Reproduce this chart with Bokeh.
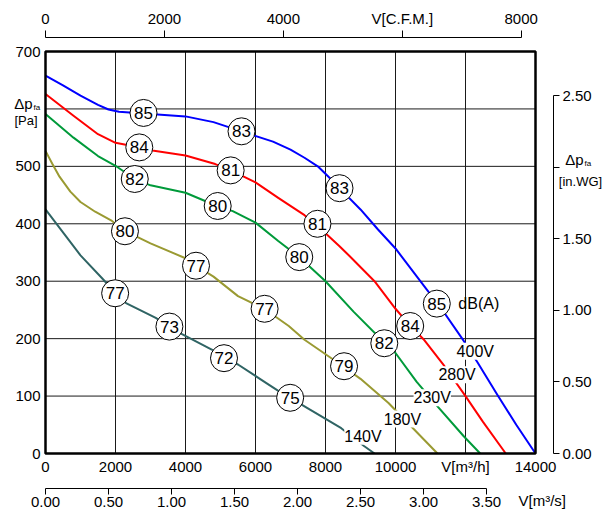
from bokeh.plotting import figure
from bokeh.models import LinearAxis, Range1d, FixedTicker, Label, NumeralTickFormatter
from bokeh.embed import file_html
from bokeh.resources import INLINE
from bokeh.core.properties import value

FONT = "Liberation Sans"

# ---- data (airflow m3/h, static pressure Pa) ----
x_400 = [0, 500, 1000, 1500, 1800, 2100, 2800, 4000, 4800, 5600, 6500, 7000, 7400, 7800, 8100, 8400, 9000, 9500, 10000, 10900, 11200, 11950, 12350, 12900, 13450, 14000]
y_400 = [658, 641, 623, 607, 599, 595, 592, 587, 577, 561, 543, 529, 515, 499, 481, 462, 425, 390, 357, 285, 262, 196, 158, 103, 50, 0]

x_280 = [0, 800, 1500, 2000, 2700, 3100, 4000, 4850, 5300, 6000, 6650, 7400, 7800, 8100, 8400, 8700, 9400, 10000, 10400, 10800, 11400, 12000, 12500, 13150]
y_280 = [626, 588, 556, 541, 533, 527, 519, 504, 493, 472, 445, 415, 395, 378, 361, 343, 300, 252, 224, 199, 152, 100, 55, 0]

x_230 = [0, 800, 1500, 2000, 2550, 3000, 4000, 4900, 5350, 6000, 6650, 7250, 8000, 8800, 9700, 10000, 10600, 11200, 11950, 12420]
y_230 = [591, 550, 518, 501, 478, 467, 454, 431, 422, 402, 370, 342, 300, 247, 192, 175, 125, 82, 30, 0]

x_180 = [0, 190, 400, 710, 1000, 1420, 1900, 2250, 3000, 4000, 4300, 4800, 5500, 6250, 6950, 7400, 8500, 9000, 9800, 10450, 11200]
y_180 = [527, 505, 482, 456, 438, 421, 405, 388, 366, 340, 327, 308, 274, 252, 222, 198, 152, 130, 88, 47, 0]

x_140 = [0, 1000, 1650, 2000, 2300, 3150, 3550, 3900, 4750, 5100, 5500, 6300, 6750, 7000, 7400, 8450, 9100, 9400]
y_140 = [425, 345, 303, 279, 262, 236, 221, 208, 181, 166, 155, 123, 105, 97, 82, 44, 13, 0]

series = [
    (x_400, y_400, "#0000ff"),
    (x_280, y_280, "#ff0000"),
    (x_230, y_230, "#009a3a"),
    (x_180, y_180, "#9a9a32"),
    (x_140, y_140, "#2f6464"),
]

# sound level markers dB(A)
db_x = [2800, 5600, 8400, 11180, 2680, 5290, 7770, 10420, 2550, 4920, 7250, 9680, 2270, 4300, 6260, 8530, 1990, 3540, 5100, 6990]
db_y = [593, 561, 462, 261, 533, 493, 400, 222, 478, 431, 342, 192, 387, 327, 252, 152, 279, 221, 166, 97]
db_t = ["85", "83", "83", "85", "84", "81", "81", "84", "82", "80", "80", "82", "80", "77", "77", "79", "77", "73", "72", "75"]

volt_x = [12280, 11760, 11050, 10200, 9070]
volt_y = [178, 137, 97, 60, 30]
volt_t = ["400V", "280V", "230V", "180V", "140V"]

m3h_ticks = [0, 2000, 4000, 6000, 8000, 10000, 12000, 14000]
pa_ticks = [0, 100, 200, 300, 400, 500, 600, 700]
cfm_ticks = [0, 2000, 4000, 6000, 8000]
ms_ticks = [0, 0.5, 1.0, 1.5, 2.0, 2.5, 3.0, 3.5]
inwg_ticks = [0, 0.5, 1.0, 1.5, 2.0, 2.5]

CFM_PER_M3H = 0.588578
PA_PER_INWG = 249.089

# ---- canvas geometry: the frame fills the canvas; the chart box sits inside it ----
W, H = 603, 511
BOX_L, BOX_R, BOX_T, BOX_B = 45, 535, 51, 453          # pixel edges of the chart box
X0, X1 = m3h_ticks[0], m3h_ticks[-1]
Y0, Y1 = pa_ticks[0], pa_ticks[-1]
kx = (BOX_R - BOX_L) / (X1 - X0)                        # px per m3/h
ky = (BOX_B - BOX_T) / (Y1 - Y0)                        # px per Pa
xr = (X0 - BOX_L / kx, X1 + (W - BOX_R) / kx)
yr = (Y0 - (H - BOX_B) / ky, Y1 + BOX_T / ky)


def dx(px):   # pixel column -> m3/h
    return X0 + (px - BOX_L) / kx


def dy(py):   # pixel row -> Pa
    return Y0 + (BOX_B - py) / ky


p = figure(width=W, height=H, x_range=Range1d(*xr), y_range=Range1d(*yr),
           output_backend="svg", toolbar_location=None,
           x_axis_location=None, y_axis_location=None,
           min_border=0, min_border_left=0, min_border_right=0, min_border_top=0, min_border_bottom=0)
p.background_fill_color = "white"
p.border_fill_color = "white"
p.outline_line_color = None
p.xgrid.visible = False
p.ygrid.visible = False

p.extra_x_ranges = {"cfm": Range1d(xr[0] * CFM_PER_M3H, xr[1] * CFM_PER_M3H),
                    "ms": Range1d(xr[0] / 3600.0, xr[1] / 3600.0)}
p.extra_y_ranges = {"inwg": Range1d(yr[0] / PA_PER_INWG, yr[1] / PA_PER_INWG)}

TICK_FS = "15px"


def style(ax, fmt=None, line=True, tick=0, standoff=3):
    ax.axis_line_color = "black" if line else None
    ax.axis_line_width = 1
    ax.major_tick_line_color = "black"
    ax.major_tick_out = tick
    ax.major_tick_in = 0
    ax.minor_tick_out = 0
    ax.minor_tick_in = 0
    ax.major_label_standoff = standoff
    ax.major_label_text_font = FONT
    ax.major_label_text_font_size = TICK_FS
    ax.major_label_text_color = "black"
    if fmt:
        ax.formatter = NumeralTickFormatter(format=fmt)


# grid and chart box
vg = m3h_ticks[1:-1]
hg = pa_ticks[1:-1]
p.segment(x0=vg, y0=[Y0] * len(vg), x1=vg, y1=[Y1] * len(vg), line_color="#1a1a1a", line_width=1)
p.segment(x0=[X0] * len(hg), y0=hg, x1=[X1] * len(hg), y1=hg, line_color="#1a1a1a", line_width=1)

# curves
for xs, ys, c in series:
    p.line(xs, ys, line_color=c, line_width=2, line_join="round")

p.quad(left=[X0], right=[X1], bottom=[Y0], top=[Y1], fill_color=None, line_color="black", line_width=2.5)

# main bottom axis (m3/h)
xa = LinearAxis(ticker=FixedTicker(ticks=m3h_ticks), fixed_location=Y0)
style(xa, line=False, tick=0, standoff=4)
xa.major_label_overrides = {12000: "V[m³/h]"}
p.add_layout(xa, "below")

# main left axis (Pa)
ya = LinearAxis(ticker=FixedTicker(ticks=pa_ticks), fixed_location=X0)
style(ya, line=False, tick=0, standoff=5)
ya.major_label_overrides = {600: ""}
p.add_layout(ya, "left")

# top axis (CFM)
cfm_ax = LinearAxis(x_range_name="cfm", ticker=FixedTicker(ticks=cfm_ticks), bounds=(0, 8000),
                    fixed_location=dy(37))
style(cfm_ax, tick=7, standoff=4)
cfm_ax.major_label_overrides = {6000: "V[C.F.M.]"}
p.add_layout(cfm_ax, "above")

# bottom m3/s axis
ms_ax = LinearAxis(x_range_name="ms", ticker=FixedTicker(ticks=ms_ticks), bounds=(0, 3.5),
                   fixed_location=dy(488))
style(ms_ax, fmt="0.00", tick=6, standoff=2)
p.add_layout(ms_ax, "below")

# right in.WG axis
wg_ax = LinearAxis(y_range_name="inwg", ticker=FixedTicker(ticks=inwg_ticks), bounds=(0, 2.5),
                   fixed_location=dx(553))
style(wg_ax, fmt="0.00", tick=6, standoff=3)
wg_ax.major_label_overrides = {2: ""}
p.add_layout(wg_ax, "right")

# dB(A) markers
p.scatter(db_x, db_y, size=27, marker="circle", fill_color="white", line_color="black", line_width=1)
p.text(db_x, db_y, text=db_t, text_align="center", text_baseline="middle",
       text_font=value(FONT), text_font_size="17px", text_color="black")

# voltage labels
for vx, vy, vt in zip(volt_x, volt_y, volt_t):
    p.add_layout(Label(x=vx, y=vy, text=vt, text_align="center", text_baseline="middle",
                       text_font=FONT, text_font_size="16px", text_color="black",
                       background_fill_color="white"))
p.add_layout(Label(x=12380, y=261, text="dB(A)", text_align="center", text_baseline="middle",
                   text_font=FONT, text_font_size="16px", text_color="black"))


def lab(x, y, t, fs, align="center"):
    p.add_layout(Label(x=x, y=y, text=t, text_align=align, text_baseline="middle",
                       text_font=FONT, text_font_size=fs, text_color="black"))


# axis titles
lab(dx(32), dy(103), "Δp", "15px", "right")
lab(dx(33), dy(107), "fa", "8px", "left")
lab(dx(37), dy(120), "[Pa]", "13px", "right")
lab(dx(583), dy(159), "Δp", "15px", "right")
lab(dx(584), dy(163), "fa", "8px", "left")
lab(dx(580), dy(181), "[in.WG]", "13px", "center")
lab(dx(518), dy(500), "V[m³/s]", TICK_FS, "left")

open("out.html", "w").write(file_html(p, INLINE))
